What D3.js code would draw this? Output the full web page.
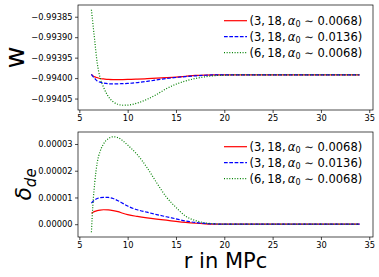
<!DOCTYPE html>
<html>
<head>
<meta charset="utf-8">
<script src="https://cdn.jsdelivr.net/npm/d3@7"></script>
<style>
  body { margin: 0; background: #fff; }
  text { font-family: "DejaVu Sans", sans-serif; }
</style>
</head>
<body>
<div id="chart"></div>
<script>
// radius grid (MPc), shared by every curve
const r = [6.25, 6.4, 6.6, 6.85, 7.15, 7.5, 8, 8.5, 9, 9.5, 10, 11, 12, 13, 14, 15, 16, 17, 18, 19, 20, 22, 25, 28, 31, 34];

// equation of state w(r)
const wRed   = [-0.993991, -0.993994, -0.993997, -0.993999, -0.994001, -0.994002, -0.9940033, -0.9940037, -0.9940037, -0.9940035, -0.9940033, -0.9940025, -0.9940015, -0.9940003, -0.993999, -0.9939975, -0.9939955, -0.9939935, -0.9939925, -0.993992, -0.993992, -0.993992, -0.993992, -0.993992, -0.993992, -0.993992];
const wBlue  = [-0.993991, -0.993996, -0.994001, -0.994007, -0.99401, -0.994012, -0.9940138, -0.9940142, -0.994014, -0.9940135, -0.994013, -0.994011, -0.994008, -0.9940045, -0.994001, -0.9939985, -0.9939962, -0.9939945, -0.993993, -0.9939922, -0.993992, -0.993992, -0.993992, -0.993992, -0.993992, -0.993992];
const wGreen = [-0.993833, -0.993866, -0.99391, -0.993963, -0.993999, -0.994022, -0.994045, -0.994058, -0.994064, -0.9940663, -0.994066, -0.994061, -0.994052, -0.99404, -0.994026, -0.994015, -0.994007, -0.994001, -0.993997, -0.993994, -0.993993, -0.993992, -0.993992, -0.993992, -0.993992, -0.993992];

// density contrast delta_de(r), in units of 1e-5
const dRed   = [0.41, 0.44, 0.48, 0.51, 0.53, 0.54, 0.535, 0.51, 0.47, 0.41, 0.36, 0.29, 0.235, 0.19, 0.15, 0.105, 0.065, 0.035, 0.015, 0.005, 0, 0, 0, 0, 0, 0];
const dBlue  = [0.79, 0.85, 0.91, 0.96, 0.99, 1.005, 1.0, 0.96, 0.88, 0.78, 0.68, 0.54, 0.45, 0.36, 0.28, 0.2, 0.12, 0.065, 0.03, 0.01, 0, 0, 0, 0, 0, 0];
const dGreen = [-0.3, 0.7, 1.57, 2.3, 2.72, 3.0, 3.2, 3.27, 3.24, 3.12, 2.96, 2.6, 2.12, 1.55, 1.02, 0.63, 0.3, 0.14, 0.05, 0.015, 0, 0, 0, 0, 0, 0];

const legendLabels = [["3", "18", "0.0068"], ["3", "18", "0.0136"], ["6", "18", "0.0068"]];
const xTicks = [5, 10, 15, 20, 25, 30, 35];
const wTicks = [-0.99385, -0.9939, -0.99395, -0.994, -0.99405];
const dTicks = [0, 0.00001, 0.00002, 0.00003];

const styles = [
  { color: "#ff0000", dash: null },
  { color: "#0000ff", dash: "3.7,1.6" },
  { color: "#008000", dash: "1,1.65" }
];

const W = 379, H = 277;
const left = 78, right = 373;
const svg = d3.select("#chart").append("svg").attr("width", W).attr("height", H);

function padded(vals) {
  const [a, b] = d3.extent(vals);
  const m = (b - a) * 0.05;
  return [a - m, b + m];
}

const x = d3.scaleLinear().domain(padded(r)).range([left, right]);

function panel(top, bottom, series, ticks, legendTop) {
  const all = [].concat(...series);
  const y = d3.scaleLinear().domain(padded(all)).range([bottom, top]);
  const g = svg.append("g");

  series.forEach((vals, i) => {
    const line = d3.line().x(d => x(d[0])).y(d => y(d[1])).curve(d3.curveMonotoneX);
    g.append("path")
      .attr("d", line(r.map((rv, k) => [rv, vals[k]])))
      .attr("fill", "none")
      .attr("stroke", styles[i].color)
      .attr("stroke-width", 1.2)
      .attr("stroke-dasharray", styles[i].dash);
  });

  const xa = g.append("g").attr("transform", `translate(0,${bottom})`)
    .call(d3.axisBottom(x).tickValues(xTicks).tickSize(3).tickPadding(2.5).tickFormat(d3.format("d")));
  const ya = g.append("g").attr("transform", `translate(${left},0)`)
    .call(d3.axisLeft(y).tickValues(ticks).tickSize(3).tickPadding(2.5).tickFormat(d3.format(".5f")));
  [xa, ya].forEach(a => {
    a.select(".domain").remove();
    a.selectAll("text").attr("font-size", 8.3).attr("font-family", "DejaVu Sans").attr("fill", "#000");
    a.selectAll("line").attr("stroke", "#000").attr("stroke-width", 0.7);
  });

  g.append("rect")
    .attr("x", left).attr("y", top)
    .attr("width", right - left).attr("height", bottom - top)
    .attr("fill", "none").attr("stroke", "#000").attr("stroke-width", 0.7);

  legendLabels.forEach((lab, i) => {
    const cy = legendTop + i * 16;
    g.append("line")
      .attr("x1", 224).attr("x2", 247).attr("y1", cy).attr("y2", cy)
      .attr("stroke", styles[i].color).attr("stroke-width", 1.2)
      .attr("stroke-dasharray", styles[i].dash);
    const t = g.append("text").attr("x", 249.5).attr("y", cy + 4).attr("font-size", 11.5).attr("fill", "#000");
    t.append("tspan").text(`(${lab[0]},\u2009${lab[1]},\u2009`);
    t.append("tspan").attr("font-style", "italic").text("α");
    t.append("tspan").attr("font-size", 8).attr("dy", 2).text("0");
    t.append("tspan").attr("dy", -2).text(` ∼ ${lab[2]})`);
  });
}

panel(5, 110, [wRed, wBlue, wGreen], wTicks, 20.7);
panel(132, 237, [dRed, dBlue, dGreen].map(s => s.map(v => v * 1e-5)), dTicks, 146.7);

// axis labels
svg.append("text")
  .attr("transform", "translate(24,57.5) rotate(-90)")
  .attr("text-anchor", "middle")
  .attr("font-size", 27)
  .text("w");

const dl = svg.append("text")
  .attr("transform", "translate(31,184.5) rotate(-90)")
  .attr("text-anchor", "middle")
  .attr("font-size", 22);
dl.append("tspan").attr("font-style", "italic").text("δ");
dl.append("tspan").attr("font-style", "italic").attr("font-size", 15).attr("dy", 4.5).text("de");

svg.append("text")
  .attr("x", (left + right) / 2).attr("y", 268)
  .attr("text-anchor", "middle")
  .attr("font-size", 21)
  .text("r in MPc");
</script>
</body>
</html>
